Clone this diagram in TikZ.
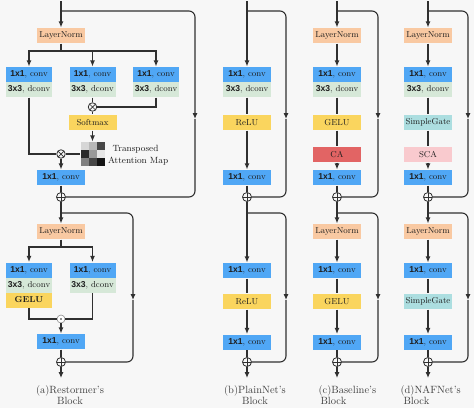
\documentclass[tikz,border=0pt]{standalone}
\usepackage{fontspec}
\newfontfamily\arialfam{Liberation Sans}
\usetikzlibrary{arrows.meta}
\definecolor{lnc}{RGB}{249,201,162}
\definecolor{convc}{RGB}{80,167,245}
\definecolor{dconvc}{RGB}{214,232,216}
\definecolor{yelc}{RGB}{250,213,94}
\definecolor{cac}{RGB}{226,100,100}
\definecolor{sgc}{RGB}{172,222,224}
\definecolor{scac}{RGB}{249,202,206}
\definecolor{linec}{RGB}{48,48,48}
\definecolor{txtc}{RGB}{30,30,30}
\definecolor{bgc}{RGB}{247,247,247}
\newcommand{\convlbl}{{\arialfam\bfseries 1x1}, conv}
\newcommand{\dconvlbl}{{\arialfam\bfseries 3x3}, dconv}
\tikzset{
  blk/.style={rectangle, inner sep=0pt, minimum height=15pt, minimum width=48pt,
    font=\fontsize{8.6}{10}\selectfont, text=txtc},
  lnbox/.style={blk, fill=lnc},
  convbox/.style={blk, fill=convc},
  dconvbox/.style={blk, fill=dconvc},
  yelbox/.style={blk, fill=yelc},
  cabox/.style={blk, fill=cac},
  sgbox/.style={blk, fill=sgc},
  scabox/.style={blk, fill=scac},
  opc/.style={circle, draw=linec, line width=0.8pt, inner sep=0pt, minimum size=8.5pt},
  mulop/.style={opc, path picture={\draw[line width=0.7pt]
      (path picture bounding box.center) +(-3.2pt,-3.2pt) -- +(3.2pt,3.2pt)
      (path picture bounding box.center) +(-3.2pt,3.2pt) -- +(3.2pt,-3.2pt);}},
  addop/.style={opc, minimum size=9pt, path picture={\draw[line width=0.7pt]
      (path picture bounding box.center) +(-5pt,0pt) -- +(5pt,0pt)
      (path picture bounding box.center) +(0pt,-5pt) -- +(0pt,5pt);}},
  dotop/.style={opc, draw=black!45, line width=0.6pt, fill=white, minimum size=8pt,
    path picture={\fill[txtc] (path picture bounding box.center) circle (0.9pt);}},
  arr/.style={-{Latex[length=6pt,width=5pt]}},
  skipln/.style={rounded corners=6pt},
  captxt/.style={inner sep=0pt, font=\fontsize{10.5}{12}\selectfont, text=black!75},
  lbl/.style={inner sep=0pt, font=\fontsize{9}{11}\selectfont, text=txtc}
}
\begin{document}
\begin{tikzpicture}[x=1pt,y=-1pt,line width=1.1pt,color=linec]
\useasboundingbox (0,0) rectangle (474,408);
\fill[bgc] (0,0) rectangle (474,408);

% ================= (a) Restormer =================
\coordinate (aT) at (61,1);
\coordinate (aS1) at (61,11);
\node[lnbox] (aLN1) at (61,35.5) {LayerNorm};
\coordinate (aB1) at (61,51);
\node[convbox, minimum width=46pt] (aQ) at (29,74.5) {\convlbl};
\node[dconvbox, minimum width=46pt] (aQd) at (29,89.5) {\dconvlbl};
\node[convbox, minimum width=46pt] (aK) at (92.5,74.5) {\convlbl};
\node[dconvbox, minimum width=46pt] (aKd) at (92.5,89.5) {\dconvlbl};
\node[convbox, minimum width=46pt] (aV) at (156,74.5) {\convlbl};
\node[dconvbox, minimum width=46pt] (aVd) at (156,89.5) {\dconvlbl};
\node[mulop] (aM1) at (92.5,107) {};
\node[yelbox] (aSM) at (92.5,122.5) {Softmax};
\node[rectangle, inner sep=0pt, minimum width=24pt, minimum height=24pt] (aMap) at (92.5,154) {};
\foreach \c [count=\i from 0] in {16,28,72}
  \fill[black!\c] (80.5+8*\i,142) rectangle +(8,8);
\foreach \c [count=\i from 0] in {84,40,10}
  \fill[black!\c] (80.5+8*\i,150) rectangle +(8,8);
\foreach \c [count=\i from 0] in {50,72,92}
  \fill[black!\c] (80.5+8*\i,158) rectangle +(8,8);
\node[lbl, anchor=base west] (aTr) at (112,151.5) {Transposed};
\node[lbl, anchor=base west] (aAtt) at (107.5,163) {Attention Map};
\node[mulop] (aM2) at (61,154) {};
\node[convbox] (aC1) at (61,177.5) {\convlbl};
\node[addop] (aA1) at (61,197) {};
\coordinate (aR1) at (195,119);

\draw[arr] (aT) -- (aLN1);
\draw[arr, skipln] (aS1) -| (aR1);
\draw[skipln] (aR1) |- (aA1);
\draw (aLN1) -- (aB1);
\draw[arr] (aB1) -| (aQ);
\draw[arr] (aB1) -| (aK);
\draw[arr] (aB1) -| (aV);
\draw (aKd) -- (aM1);
\draw (aVd) |- (aM1);
\draw (aM1) -- (aSM);
\draw[arr] (aSM) -- (aMap);
\draw (aMap) -- (aM2);
\draw (aQd) |- (aM2);
\draw[arr] (aM2) -- (aC1);
\draw (aC1) -- (aA1);

\coordinate (aS2) at (61,213);
\node[lnbox] (aLN2) at (61,231.5) {LayerNorm};
\coordinate (aB2) at (61,247);
\node[convbox, minimum width=46pt] (aQ2) at (29,270) {\convlbl};
\node[dconvbox, minimum width=46pt] (aQ2d) at (29,285) {\dconvlbl};
\node[yelbox, minimum width=46pt, font=\fontsize{8.6}{10}\selectfont\bfseries] (aQ2g) at (29,300) {GELU};
\node[convbox, minimum width=46pt] (aK2) at (92.5,270) {\convlbl};
\node[dconvbox, minimum width=46pt] (aK2d) at (92.5,285) {\dconvlbl};
\node[dotop] (aD) at (61,319) {};
\node[convbox] (aC2) at (61,341.5) {\convlbl};
\node[addop] (aA2) at (61,362) {};
\coordinate (aO) at (61,378);
\coordinate (aR2) at (133,300);

\draw[arr] (aA1) -- (aLN2);
\draw[arr, skipln] (aS2) -| (aR2);
\draw[skipln] (aR2) |- (aA2);
\draw (aLN2) -- (aB2);
\draw[arr] (aB2) -| (aQ2);
\draw[arr] (aB2) -| (aK2);
\draw (aQ2g) |- (aD);
\draw (aK2d) |- (aD);
\draw[arr] (aD) -- (aC2);
\draw (aC2) -- (aA2);
\draw[arr] (aA2) -- (aO);
\node[captxt, anchor=base] (aCap1) at (70,393) {(a)Restormer's};
\node[captxt, anchor=base] (aCap2) at (70,404.5) {Block};

% ================= (b) PlainNet =================
\coordinate (bT) at (247,1);
\coordinate (bS1) at (247,11);
\node[convbox] (bC1) at (247,74.5) {\convlbl};
\node[dconvbox] (bC1d) at (247,89.5) {\dconvlbl};
\node[yelbox] (bR1) at (247,122.5) {ReLU};
\node[convbox] (bC2) at (247,177.5) {\convlbl};
\node[addop] (bA1) at (247,197) {};
\coordinate (bR) at (286,119);
\draw[arr] (bT) -- (bC1);
\draw[arr, skipln] (bS1) -| (bR);
\draw[skipln] (bR) |- (bA1);
\draw (bC1d) -- (bR1);
\draw[arr] (bR1) -- (bC2);
\draw (bC2) -- (bA1);

\coordinate (bS2) at (247,213);
\node[convbox] (bC3) at (247,270.5) {\convlbl};
\node[yelbox] (bR2) at (247,301.5) {ReLU};
\node[convbox] (bC4) at (247,342) {\convlbl};
\node[addop] (bA2) at (247,362) {};
\coordinate (bO) at (247,378);
\coordinate (bRR) at (286,300);
\draw[arr] (bA1) -- (bC3);
\draw[arr, skipln] (bS2) -| (bRR);
\draw[skipln] (bRR) |- (bA2);
\draw (bC3) -- (bR2);
\draw[arr] (bR2) -- (bC4);
\draw (bC4) -- (bA2);
\draw[arr] (bA2) -- (bO);
\node[captxt, anchor=base] (bCap1) at (255,393) {(b)PlainNet's};
\node[captxt, anchor=base] (bCap2) at (255,404.5) {Block};

% ================= (c) Baseline =================
\coordinate (cT) at (337,1);
\coordinate (cS1) at (337,11);
\node[lnbox] (cLN1) at (337,35.5) {LayerNorm};
\node[convbox] (cC1) at (337,74.5) {\convlbl};
\node[dconvbox] (cC1d) at (337,89.5) {\dconvlbl};
\node[yelbox] (cG1) at (337,122.5) {GELU};
\node[cabox] (cCA) at (337,154.5) {CA};
\node[convbox] (cC2) at (337,177.5) {\convlbl};
\node[addop] (cA1) at (337,197) {};
\coordinate (cR) at (378,119);
\draw[arr] (cT) -- (cLN1);
\draw[arr, skipln] (cS1) -| (cR);
\draw[skipln] (cR) |- (cA1);
\draw[arr] (cLN1) -- (cC1);
\draw (cC1d) -- (cG1);
\draw (cG1) -- (cCA);
\draw[arr] (cCA) -- (cC2);
\draw (cC2) -- (cA1);

\coordinate (cS2) at (337,213);
\node[lnbox] (cLN2) at (337,231.5) {LayerNorm};
\node[convbox] (cC3) at (337,270.5) {\convlbl};
\node[yelbox] (cG2) at (337,301.5) {GELU};
\node[convbox] (cC4) at (337,342) {\convlbl};
\node[addop] (cA2) at (337,362) {};
\coordinate (cO) at (337,378);
\coordinate (cRR) at (378,300);
\draw[arr] (cA1) -- (cLN2);
\draw[arr, skipln] (cS2) -| (cRR);
\draw[skipln] (cRR) |- (cA2);
\draw[arr] (cLN2) -- (cC3);
\draw (cC3) -- (cG2);
\draw[arr] (cG2) -- (cC4);
\draw (cC4) -- (cA2);
\draw[arr] (cA2) -- (cO);
\node[captxt, anchor=base west] (cCap1) at (318,393) {(c)Baseline's};
\node[captxt, anchor=base west] (cCap2) at (320,404.5) {Block};

% ================= (d) NAFNet =================
\coordinate (dT) at (428,1);
\coordinate (dS1) at (428,11);
\node[lnbox] (dLN1) at (428,35.5) {LayerNorm};
\node[convbox] (dC1) at (428,74.5) {\convlbl};
\node[dconvbox] (dC1d) at (428,89.5) {\dconvlbl};
\node[sgbox] (dG1) at (428,122.5) {SimpleGate};
\node[scabox] (dCA) at (428,154.5) {SCA};
\node[convbox] (dC2) at (428,177.5) {\convlbl};
\node[addop] (dA1) at (428,197) {};
\coordinate (dR) at (468,119);
\draw[arr] (dT) -- (dLN1);
\draw[arr, skipln] (dS1) -| (dR);
\draw[skipln] (dR) |- (dA1);
\draw[arr] (dLN1) -- (dC1);
\draw (dC1d) -- (dG1);
\draw (dG1) -- (dCA);
\draw[arr] (dCA) -- (dC2);
\draw (dC2) -- (dA1);

\coordinate (dS2) at (428,213);
\node[lnbox] (dLN2) at (428,231.5) {LayerNorm};
\node[convbox] (dC3) at (428,270.5) {\convlbl};
\node[sgbox] (dG2) at (428,301.5) {SimpleGate};
\node[convbox] (dC4) at (428,342) {\convlbl};
\node[addop] (dA2) at (428,362) {};
\coordinate (dO) at (428,378);
\coordinate (dRR) at (468,300);
\draw[arr] (dA1) -- (dLN2);
\draw[arr, skipln] (dS2) -| (dRR);
\draw[skipln] (dRR) |- (dA2);
\draw[arr] (dLN2) -- (dC3);
\draw (dC3) -- (dG2);
\draw[arr] (dG2) -- (dC4);
\draw (dC4) -- (dA2);
\draw[arr] (dA2) -- (dO);
\node[captxt, anchor=base west] (dCap1) at (400,393) {(d)NAFNet's};
\node[captxt, anchor=base west] (dCap2) at (403,404.5) {Block};
\end{tikzpicture}
\end{document}
